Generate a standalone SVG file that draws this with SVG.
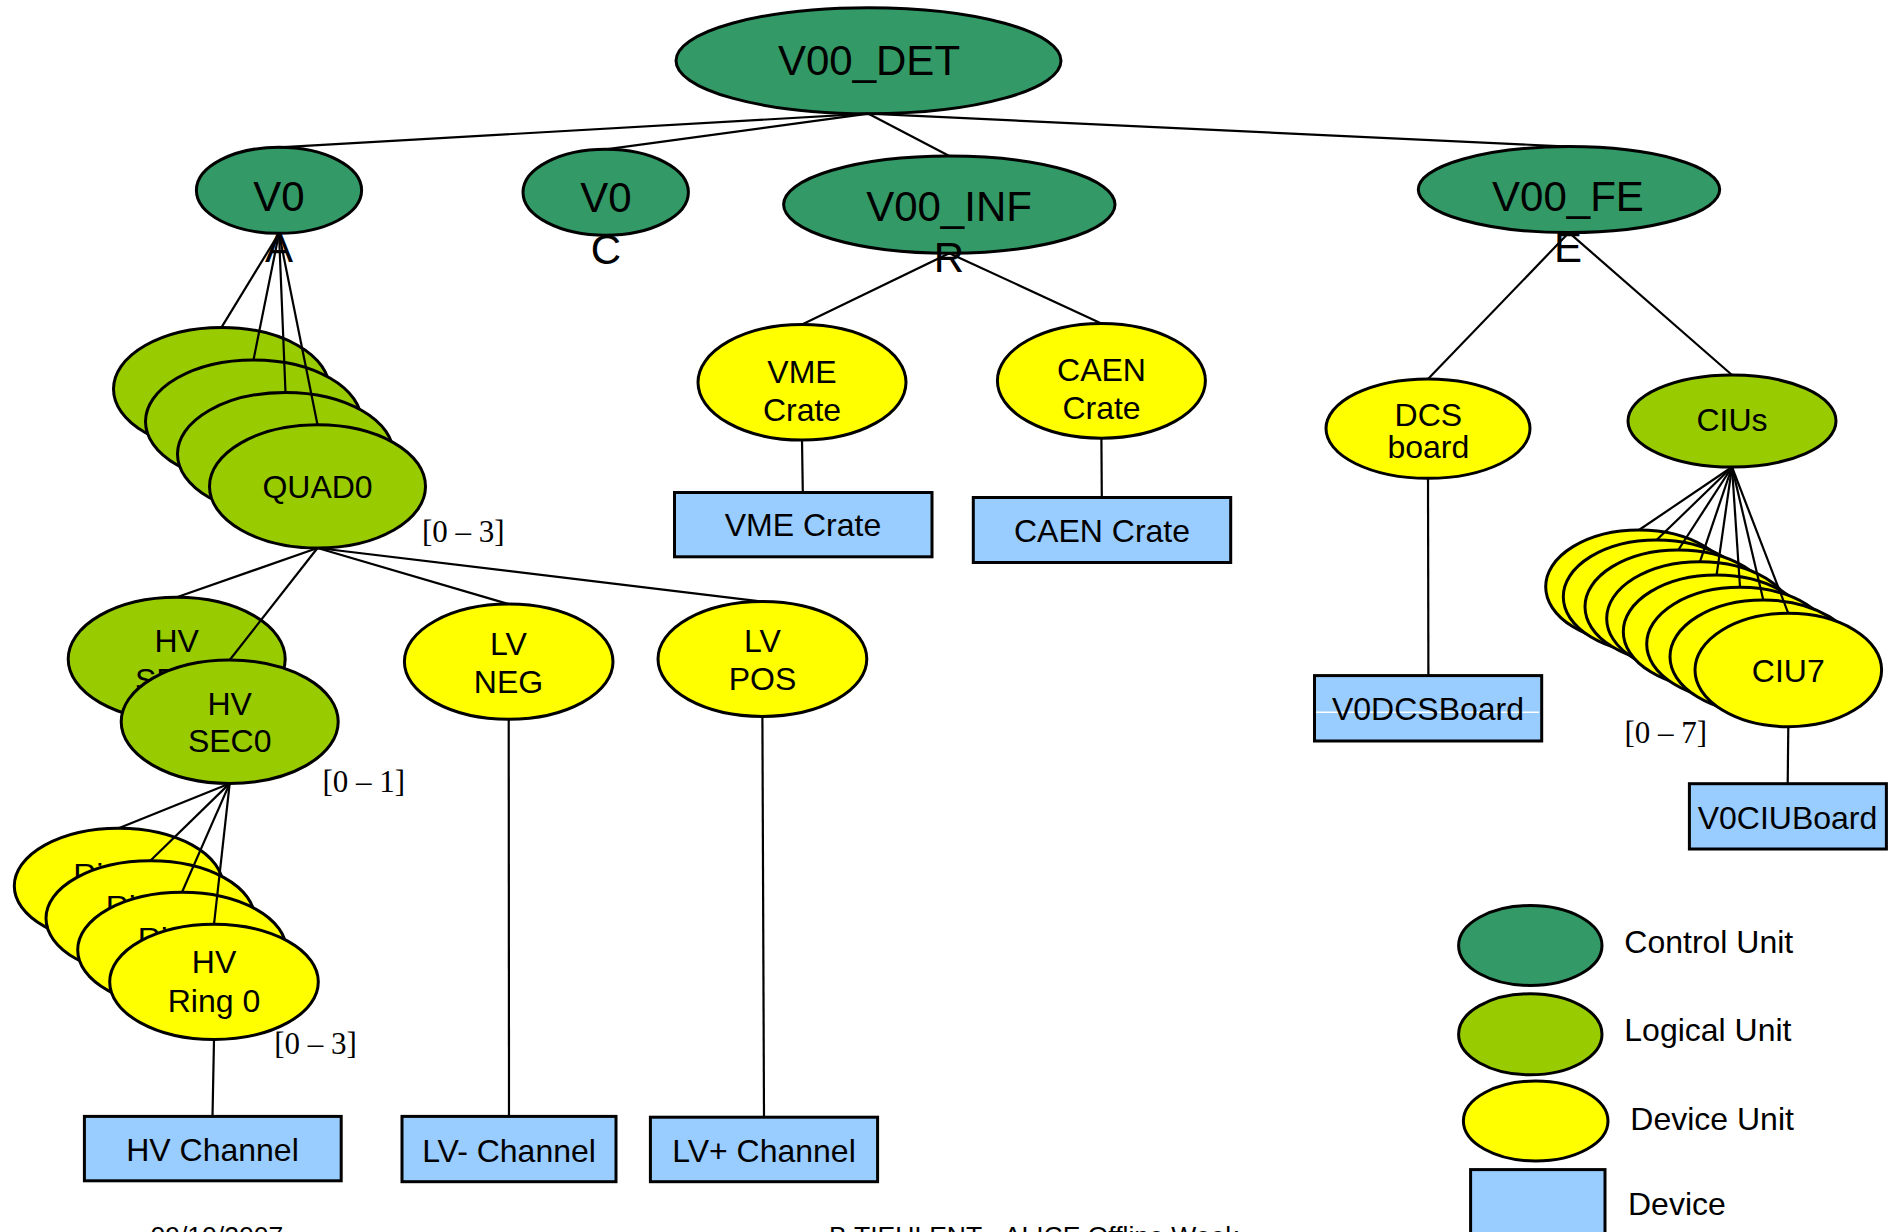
<svg xmlns="http://www.w3.org/2000/svg" width="1890" height="1232" viewBox="0 0 1890 1232">
<style>
.cu{fill:#339966;stroke:#000;stroke-width:3}
.lu{fill:#99cc00;stroke:#000;stroke-width:3}
.du{fill:#ffff00;stroke:#000;stroke-width:3}
.dv{fill:#99ccff;stroke:#000;stroke-width:3}
.t{font-family:"Liberation Sans",Arial,sans-serif;font-size:32px;fill:#000;text-anchor:middle}
.tl{font-family:"Liberation Sans",Arial,sans-serif;font-size:42px;fill:#000;text-anchor:middle}
.lg{font-family:"Liberation Sans",Arial,sans-serif;font-size:32px;fill:#000}
.br{font-family:"Liberation Serif","Times New Roman",serif;font-size:31px;fill:#000}
.ft{font-family:"Liberation Sans",Arial,sans-serif;font-size:26.5px;fill:#000}
.c line{stroke:#000;stroke-width:2.2}
</style>
<rect width="1890" height="1232" fill="#fff"/>

<g id="V00_DET"><ellipse class="cu" cx="868.5" cy="60.7" rx="192.5" ry="53"/><text class="tl" x="869" y="74.6">V00_DET</text></g>
<g id="V0A"><ellipse class="cu" cx="279" cy="190.3" rx="82.6" ry="43"/><text class="tl" x="279" y="210.5">V0</text><text class="tl" x="279" y="262">A</text></g>
<g id="V0C"><ellipse class="cu" cx="605.7" cy="192.3" rx="82.7" ry="43"/><text class="tl" x="606" y="212">V0</text><text class="tl" x="606" y="264">C</text></g>
<g id="V00_INFR"><ellipse class="cu" cx="949.3" cy="204.6" rx="165.7" ry="48.6"/><text class="tl" x="949" y="221">V00_INF</text><text class="tl" x="949" y="272">R</text></g>
<g id="V00_FEE"><ellipse class="cu" cx="1569" cy="189.6" rx="150.7" ry="43"/><text class="tl" x="1568" y="210.5">V00_FE</text><text class="tl" x="1568" y="262">E</text></g>

<g id="QUAD">
<ellipse class="lu" cx="221.5" cy="389" rx="108" ry="61.6"/>
<ellipse class="lu" cx="253.5" cy="421.5" rx="108" ry="61.6"/>
<ellipse class="lu" cx="285.5" cy="454" rx="108" ry="61.6"/>
<ellipse class="lu" cx="317.5" cy="486.4" rx="108" ry="61.6"/>
<text class="t" x="317.5" y="498">QUAD0</text>
<text class="br" x="422" y="541.5">[0 – 3]</text>
</g>

<g id="HV_SEC">
<ellipse class="lu" cx="176.7" cy="659" rx="108.5" ry="61.7"/>
<text class="t" x="176.7" y="651.7">HV</text><text class="t" x="176.7" y="690.5">SEC1</text>
<ellipse class="lu" cx="229.7" cy="721.7" rx="108.5" ry="61.7"/>
<text class="t" x="229.7" y="715">HV</text><text class="t" x="229.7" y="751.7">SEC0</text>
<text class="br" x="322.5" y="792">[0 – 1]</text>
</g>

<g id="LV_NEG"><ellipse class="du" cx="508.7" cy="661.7" rx="104.3" ry="57.6"/><text class="t" x="508.5" y="654.8">LV</text><text class="t" x="508.5" y="693">NEG</text></g>
<g id="LV_POS"><ellipse class="du" cx="762.4" cy="659" rx="104.4" ry="57.4"/><text class="t" x="762.5" y="651.5">LV</text><text class="t" x="762.5" y="690">POS</text></g>

<g id="HV_RING">
<ellipse class="du" cx="118.6" cy="885.9" rx="104.3" ry="57.6"/>
<text class="t" x="119.5" y="886">Ring 3</text>
<ellipse class="du" cx="150.3" cy="918.3" rx="104.3" ry="57.6"/>
<text class="t" x="152" y="918">Ring 2</text>
<ellipse class="du" cx="182" cy="949.9" rx="104.3" ry="57.6"/>
<text class="t" x="184" y="950">Ring 1</text>
<ellipse class="du" cx="214" cy="981.9" rx="104.3" ry="57.6"/>
<text class="t" x="214" y="973.3">HV</text><text class="t" x="214" y="1011.7">Ring 0</text>
<text class="br" x="274.3" y="1054">[0 – 3]</text>
</g>

<g id="HV_Channel"><rect class="dv" x="84.4" y="1116.4" width="256.8" height="64.4"/><text class="t" x="212.5" y="1161">HV Channel</text></g>
<g id="LVm_Channel"><rect class="dv" x="402" y="1116.4" width="214" height="65.3"/><text class="t" x="509" y="1162">LV- Channel</text></g>
<g id="LVp_Channel"><rect class="dv" x="650.4" y="1117.2" width="227.2" height="64.5"/><text class="t" x="764" y="1162">LV+ Channel</text></g>

<g id="VME_Crate_DU"><ellipse class="du" cx="802" cy="382.3" rx="104" ry="57.8"/><text class="t" x="802" y="382.7">VME</text><text class="t" x="802" y="421">Crate</text></g>
<g id="CAEN_Crate_DU"><ellipse class="du" cx="1101.4" cy="380.8" rx="104" ry="57.4"/><text class="t" x="1101.5" y="380.8">CAEN</text><text class="t" x="1101.5" y="419">Crate</text></g>
<g id="VME_Crate"><rect class="dv" x="674.5" y="492.5" width="257.5" height="64.3"/><text class="t" x="803" y="535.8">VME Crate</text></g>
<g id="CAEN_Crate"><rect class="dv" x="973.3" y="497.5" width="257.4" height="65"/><text class="t" x="1102" y="541.5">CAEN Crate</text></g>

<g id="DCS_board"><ellipse class="du" cx="1428" cy="428.6" rx="102" ry="49.7"/><text class="t" x="1428.4" y="426">DCS</text><text class="t" x="1428.4" y="458">board</text></g>
<g id="CIUs"><ellipse class="lu" cx="1732" cy="421" rx="104" ry="46"/><text class="t" x="1732" y="430.5">CIUs</text></g>

<g id="CIU">
<ellipse class="du" cx="1639" cy="586.7" rx="93.3" ry="56.7"/>
<ellipse class="du" cx="1656.6" cy="596.7" rx="93.3" ry="56.7"/>
<ellipse class="du" cx="1678.3" cy="606.7" rx="93.3" ry="56.7"/>
<ellipse class="du" cx="1700" cy="618.4" rx="93.3" ry="56.7"/>
<ellipse class="du" cx="1716.6" cy="631.7" rx="93.3" ry="56.7"/>
<ellipse class="du" cx="1740" cy="644" rx="93.3" ry="56.7"/>
<ellipse class="du" cx="1763.3" cy="656.7" rx="93.3" ry="56.7"/>
<ellipse class="du" cx="1788.3" cy="670" rx="93.3" ry="56.7"/>
<text class="t" x="1788.3" y="681.7">CIU7</text>
<text class="br" x="1624.5" y="742.5">[0 – 7]</text>
</g>

<g id="V0DCSBoard"><rect class="dv" x="1314.5" y="675.6" width="227.2" height="65.4"/><line x1="1316" y1="712.2" x2="1539" y2="712.2" stroke="#fff" stroke-width="1.5"/><text class="t" x="1428" y="720">V0DCSBoard</text></g>
<g id="V0CIUBoard"><rect class="dv" x="1689.4" y="783.7" width="197" height="65.3"/><text class="t" x="1787.5" y="828.6">V0CIUBoard</text></g>

<g id="legend">
<ellipse class="cu" cx="1530.3" cy="945.5" rx="71.7" ry="40"/><text class="lg" x="1624.3" y="953">Control Unit</text>
<ellipse class="lu" cx="1530.3" cy="1034.3" rx="71.7" ry="40.5"/><text class="lg" x="1624.3" y="1041">Logical Unit</text>
<ellipse class="du" cx="1535.7" cy="1121" rx="72.3" ry="40"/><text class="lg" x="1630.3" y="1129.7">Device Unit</text>
<rect class="dv" x="1470.6" y="1169.6" width="134.4" height="80"/><text class="lg" x="1628" y="1215.3">Device</text>
</g>

<g id="footer">
<text class="ft" x="150.5" y="1245">09/10/2007</text>
<text class="ft" x="829" y="1245">B.TIEULENT - ALICE Offline Week</text>
</g>

<g id="connectors" class="c">
<line x1="868.5" y1="113.7" x2="279" y2="147.3"/>
<line x1="868.5" y1="113.7" x2="605.7" y2="149.3"/>
<line x1="868.5" y1="113.7" x2="949.3" y2="156"/>
<line x1="868.5" y1="113.7" x2="1569" y2="146.6"/>
<line x1="279" y1="233.3" x2="221.5" y2="327.4"/>
<line x1="279" y1="233.3" x2="253.5" y2="359.9"/>
<line x1="279" y1="233.3" x2="285.5" y2="392.4"/>
<line x1="279" y1="233.3" x2="317.5" y2="424.8"/>
<line x1="317.5" y1="548" x2="176.7" y2="597.3"/>
<line x1="317.5" y1="548" x2="229.7" y2="660"/>
<line x1="317.5" y1="548" x2="508.7" y2="604.1"/>
<line x1="317.5" y1="548" x2="762.4" y2="601.6"/>
<line x1="229.7" y1="783.4" x2="118.6" y2="828.3"/>
<line x1="229.7" y1="783.4" x2="150.3" y2="860.7"/>
<line x1="229.7" y1="783.4" x2="182" y2="892.3"/>
<line x1="229.7" y1="783.4" x2="214" y2="924.3"/>
<line x1="214" y1="1039.5" x2="212.5" y2="1116.4"/>
<line x1="508.7" y1="719.3" x2="509" y2="1116.4"/>
<line x1="762.4" y1="716.4" x2="764" y2="1117.2"/>
<line x1="949.3" y1="253.2" x2="802" y2="324.5"/>
<line x1="949.3" y1="253.2" x2="1101.4" y2="323.4"/>
<line x1="802" y1="440.1" x2="802.8" y2="492.5"/>
<line x1="1101.4" y1="438.2" x2="1101.8" y2="497.5"/>
<line x1="1569" y1="232.6" x2="1428" y2="378.9"/>
<line x1="1569" y1="232.6" x2="1732" y2="375"/>
<line x1="1428" y1="478.3" x2="1428.4" y2="675.6"/>
<line x1="1732" y1="467" x2="1639" y2="530"/>
<line x1="1732" y1="467" x2="1656.6" y2="540"/>
<line x1="1732" y1="467" x2="1678.3" y2="550"/>
<line x1="1732" y1="467" x2="1700" y2="561.7"/>
<line x1="1732" y1="467" x2="1716.6" y2="575"/>
<line x1="1732" y1="467" x2="1740" y2="587.3"/>
<line x1="1732" y1="467" x2="1763.3" y2="600"/>
<line x1="1732" y1="467" x2="1788.3" y2="613.3"/>
<line x1="1788.3" y1="726.7" x2="1787.7" y2="783.7"/>
</g>
</svg>
